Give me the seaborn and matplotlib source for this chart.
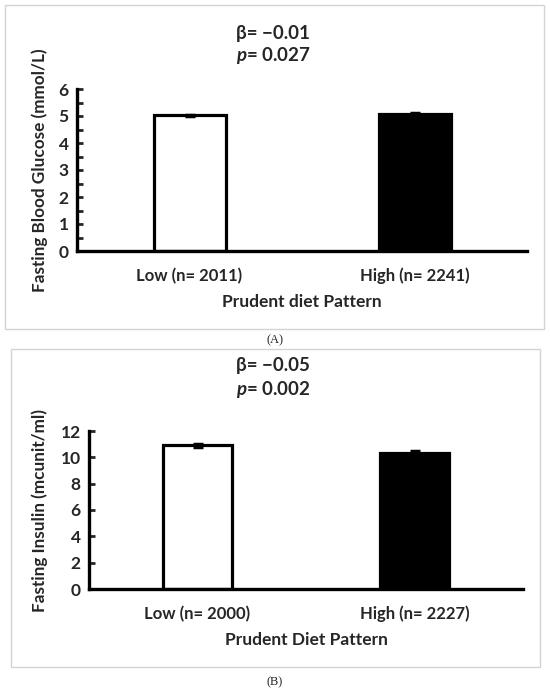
import numpy as np
import pandas as pd
import seaborn as sns
import matplotlib.pyplot as plt
from matplotlib.patches import Rectangle
from matplotlib.ticker import MultipleLocator

# values
groups_a = ['Low (n= 2011)', 'High (n= 2241)']
glucose_mean = [5.02, 5.08]
glucose_se = [0.02, 0.02]

groups_b = ['Low (n= 2000)', 'High (n= 2227)']
insulin_mean = [10.9, 10.35]
insulin_se = [0.15, 0.12]

sns.set_style('white')
plt.rcParams['font.family'] = ['Lato', 'DejaVu Sans']
plt.rcParams['mathtext.fontset'] = 'custom'
plt.rcParams['mathtext.bfit'] = 'Lato:italic:bold'
plt.rcParams['mathtext.rm'] = 'Lato:bold'
ink = '#000000'

fig = plt.figure(figsize=(5.5, 6.91), dpi=100)
W, H = 550, 691

def frac_box(x0, y0, x1, y1):
    # pixel box (top-left origin) -> figure fraction rect
    return [x0 / W, 1 - y1 / H, (x1 - x0) / W, (y1 - y0) / H]

# light grey frames round each panel
for b in [(5, 5, 544, 329), (11, 349, 540, 667)]:
    r = frac_box(*b)
    fig.patches.append(Rectangle((r[0], r[1]), r[2], r[3], transform=fig.transFigure,
                                 fill=False, edgecolor='#d4d4d4', linewidth=1.0))

def panel(rect, groups, means, ses, ymax, ystep, minor, ylabel, xlabel, ylab_x):
    ax = fig.add_axes(frac_box(*rect))
    df = pd.DataFrame({'group': groups, 'value': means})
    sns.barplot(data=df, x='group', y='value', hue='group', palette=['white', 'black'],
                edgecolor=ink, linewidth=2.3, width=0.32, legend=False, errorbar=None, ax=ax)
    ax.errorbar(np.arange(len(groups)), means, yerr=ses, fmt='none', ecolor=ink,
                elinewidth=1.5, capsize=3.5, capthick=2.5)
    ax.set_xlim(-0.5, 1.5)
    ax.set_ylim(0, ymax)
    ax.yaxis.set_major_locator(MultipleLocator(ystep))
    if minor:
        ax.yaxis.set_minor_locator(MultipleLocator(minor))
    sns.despine(ax=ax)
    for s in ['left', 'bottom']:
        ax.spines[s].set_linewidth(2.4)
        ax.spines[s].set_color(ink)
    ax.tick_params(axis='y', which='both', direction='in', length=4, width=2, left=True,
                   labelsize=12.5, pad=6)
    ax.tick_params(axis='x', length=0, labelsize=12, pad=12)
    for t in ax.get_xticklabels() + ax.get_yticklabels():
        t.set_fontweight('bold')
    ax.set_xlabel(xlabel, fontsize=12.5, fontweight='bold', labelpad=7)
    ax.set_ylabel(ylabel, fontsize=12.3, fontweight='bold')
    ax.yaxis.set_label_coords(ylab_x, 0.5)
    return ax

ax1 = panel((77, 89, 527, 251), groups_a, glucose_mean, glucose_se, 6, 1, 0.5,
            'Fasting Blood Glucose (mmol/L)', 'Prudent diet Pattern', (48 - 77) / 450)
ax2 = panel((89, 431, 523, 589), groups_b, insulin_mean, insulin_se, 12, 2, None,
            'Fasting Insulin (mcunit/ml)', 'Prudent Diet Pattern', (48 - 89) / 434)

# regression results above each chart
stats = [('\u22120.01', '0.027', 33), ('\u22120.05', '0.002', 366)]
for beta, pv, yy in stats:
    fig.text(273 / W, 1 - yy / H, 'β= ' + beta, ha='center', va='center',
             fontsize=13.5, fontweight='bold')
    fig.text(273 / W, 1 - (yy + 23) / H, r'$\mathbfit{p}$= ' + pv, ha='center', va='center',
             fontsize=13.5, fontweight='bold')

for cap, yy in [('(A)', 340), ('(B)', 682)]:
    fig.text(275 / W, 1 - yy / H, cap, ha='center', va='center', fontsize=9,
             family=['Liberation Serif', 'DejaVu Serif'])

fig.savefig('out.png', dpi=100, facecolor='white')
